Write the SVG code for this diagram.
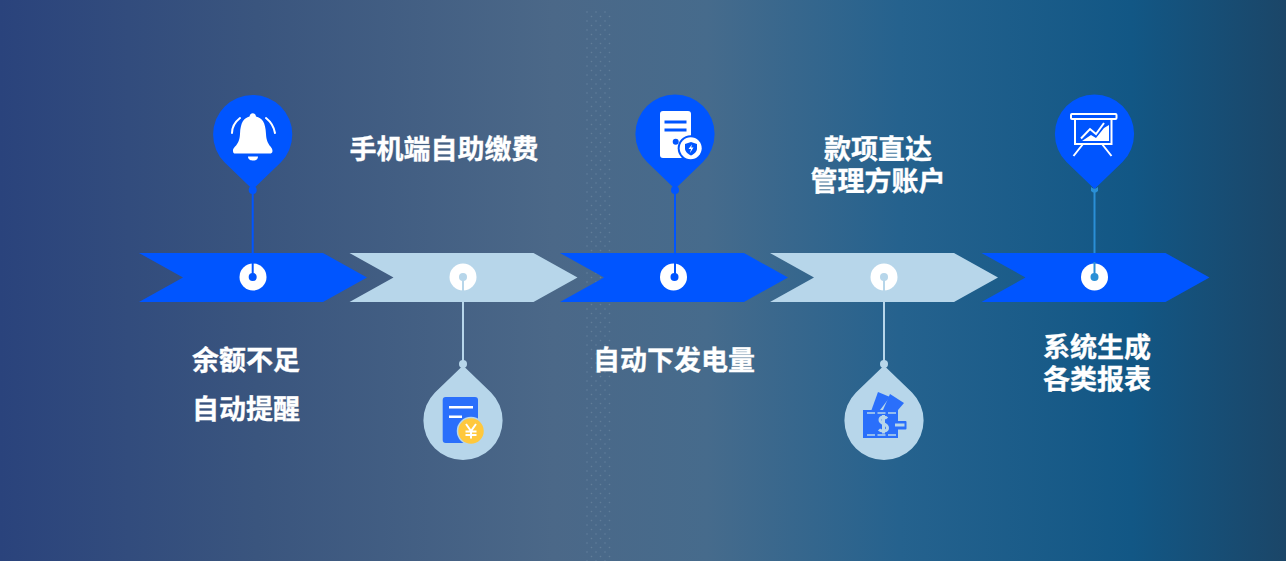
<svg xmlns="http://www.w3.org/2000/svg" width="1286" height="561" viewBox="0 0 1286 561">
<style>
text{font-family:"Noto Sans CJK SC","Liberation Sans",sans-serif;font-weight:700;font-size:27px;fill:#fff;stroke:#fff;stroke-width:.3px;text-anchor:middle}
.b{fill:#0055ff}.l{fill:#b7d6ea}.w{fill:#fff}.ic{fill:#2a6ffb}
.sw{fill:none;stroke:#fff}
</style>
<defs>
<linearGradient id="bg" x1="0" y1="0" x2="1" y2="0">
<stop offset="0" stop-color="#2a437c"/>
<stop offset="0.2" stop-color="#3a557e"/>
<stop offset="0.43" stop-color="#4b6888"/>
<stop offset="0.55" stop-color="#466b8c"/>
<stop offset="0.7" stop-color="#25628e"/>
<stop offset="0.88" stop-color="#125785"/>
<stop offset="1" stop-color="#1b4668"/>
</linearGradient>
<pattern id="dots" width="9" height="9" patternUnits="userSpaceOnUse"><circle cx="2" cy="3" r="0.8" fill="#7d97ad" fill-opacity="0.45"/><circle cx="6.500" cy="7.500" r="0.8" fill="#7d97ad" fill-opacity="0.45"/></pattern>
<polygon id="chev" points="0,0 184,0 228,24.500 184,49 0,49 44,24.500"/>
<path id="pin" d="M0,55 L-28,28 A39.600,39.600 0 1 1 28,28 Z"/>
</defs>
<rect width="1286" height="561" fill="url(#bg)"/>
<rect x="585" y="10" width="28" height="551" fill="url(#dots)"/>

<g id="connectors">
<line x1="252.700" y1="186" x2="252.700" y2="277" stroke="#0055ff" stroke-width="2"/>
<line x1="463" y1="277" x2="463" y2="365" stroke="#b7d6ea" stroke-width="2"/>
<line x1="675" y1="186" x2="675" y2="277" stroke="#0055ff" stroke-width="2"/>
<line x1="884" y1="277" x2="884" y2="365" stroke="#b7d6ea" stroke-width="2"/>
<line x1="1094.500" y1="186" x2="1094.500" y2="277" stroke="#2a8fd6" stroke-width="2"/>
</g>

<g id="step1">
<use href="#chev" class="b" x="139" y="253"/>
<circle class="w" cx="253" cy="277" r="13.500"/>
<line x1="252.700" y1="262" x2="252.700" y2="277" stroke="#0055ff" stroke-width="2"/>
<circle class="b" cx="252.700" cy="277" r="4"/>
<text x="246" y="370">余额不足</text>
<text x="246" y="418.500">自动提醒</text>
</g>
<g id="pin1">
<use href="#pin" class="b" x="252.700" y="134.500"/>
<circle class="b" cx="252.700" cy="190" r="4"/>
<path class="w" d="M233,151 C233,146 239.500,146 240,134 C240.500,122 244,118 249.500,116.500 C250,112 255.500,112 256,116.500 C262,118 265.500,122 266,134 C266.500,146 272.500,146 272.500,151 C272.500,153 271,153.500 270,153.500 L235,153.500 C234,153.500 233,153 233,151 Z"/>
<path class="w" d="M248,156.500 L258,156.500 C258,160 255,160.500 253,160.500 C251,160.500 248,160 248,156.500 Z"/>
<path class="sw" stroke-width="2" stroke-linecap="round" d="M240,118 C235,122 232,127 232,133 M266,118 C271,122 274,127 275,133"/>
</g>

<g id="step2">
<use href="#chev" class="l" x="349.500" y="253"/>
<circle class="w" cx="463" cy="277" r="13.500"/>
<line x1="463" y1="277" x2="463" y2="291" stroke="#b7d6ea" stroke-width="2"/>
<circle class="l" cx="463" cy="277" r="4"/>
<text x="444" y="159">手机端自助缴费</text>
</g>
<g id="pin2">
<use href="#pin" class="l" transform="translate(463,420.500) scale(1,-1)"/>
<circle class="l" cx="463" cy="364" r="4"/>
<rect class="ic" x="442.700" y="397" width="35.300" height="46" rx="3"/>
<rect class="w" x="449" y="406" width="24" height="2.500"/>
<rect class="w" x="449" y="415.500" width="13" height="2.500"/>
<circle cx="471" cy="431" r="13.500" fill="#ffc83d" stroke="#b7d6ea" stroke-width="1.500"/>
<path class="sw" stroke-width="2" d="M466,424 L471,431 L476,424 M471,431 L471,438.500 M465.500,431.500 L476.500,431.500 M465.500,435 L476.500,435"/>
</g>

<g id="step3">
<use href="#chev" class="b" x="560" y="253"/>
<circle class="w" cx="673.500" cy="277" r="13.500"/>
<line x1="675" y1="262" x2="675" y2="277" stroke="#0055ff" stroke-width="2"/>
<circle class="b" cx="674.500" cy="277" r="4"/>
<text x="674" y="370">自动下发电量</text>
</g>
<g id="pin3">
<use href="#pin" class="b" x="675" y="134"/>
<circle class="b" cx="675" cy="190" r="4"/>
<rect class="w" x="660" y="111" width="31" height="47" rx="3"/>
<rect class="b" x="664.500" y="120.500" width="22" height="3"/>
<rect class="b" x="664.500" y="128.500" width="22" height="3"/>
<circle class="b" cx="675.700" cy="141.700" r="3"/>
<circle cx="690.700" cy="148.300" r="13" fill="#0055ff"/>
<circle cx="690.700" cy="148.300" r="11" fill="#fff"/>
<path class="b" d="M691,142 L697,144 V148.500 C697,152 694,154 691,155.500 C688,154 685,152 685,148.500 V144 Z"/>
<path class="w" d="M692,144.500 L688.500,149 H691 L690,153 L693.500,147.500 H691.200 Z"/>
</g>

<g id="step4">
<use href="#chev" class="l" x="770" y="253"/>
<circle class="w" cx="884" cy="277" r="13.500"/>
<line x1="884" y1="277" x2="884" y2="291" stroke="#b7d6ea" stroke-width="2"/>
<circle class="l" cx="884" cy="277" r="4"/>
<text x="878" y="159">款项直达<tspan x="878" y="191">管理方账户</tspan></text>
</g>
<g id="pin4">
<use href="#pin" class="l" transform="translate(884,420.500) scale(1,-1)"/>
<circle class="l" cx="884" cy="364" r="4"/>
<polygon class="ic" points="871.500,410 878,392 890,397 880,410"/>
<polygon class="ic" points="883,410 890,394 904,403 898,410"/>
<rect class="ic" x="863" y="410" width="35" height="28"/>
<rect class="ic" x="893" y="421" width="13.500" height="8.500" rx="1"/>
<rect fill="#b7d6ea" x="895" y="423.500" width="9.500" height="3"/>
<line x1="867" y1="413" x2="900" y2="413" stroke="#b7d6ea" stroke-width="1.500" stroke-dasharray="8 2.500"/>
<line x1="867" y1="435" x2="898" y2="435" stroke="#b7d6ea" stroke-width="1.500" stroke-dasharray="8 2.500"/>
<path fill="none" stroke="#b7d6ea" stroke-width="3" d="M887,418.500 C885,416 880,416.500 880,420 C880,424.500 887.500,423 887.500,428 C887.500,431.500 881.500,432 879,429.500 M883.500,415 V433.500"/>
</g>

<g id="step5">
<use href="#chev" class="b" x="981.500" y="253"/>
<circle class="w" cx="1094.500" cy="277" r="13.500"/>
<line x1="1094.500" y1="262" x2="1094.500" y2="277" stroke="#2a8fd6" stroke-width="2"/>
<circle cx="1094.500" cy="277" r="4" fill="#2a8fd6"/>
<text x="1097" y="357">系统生成<tspan x="1097" y="389">各类报表</tspan></text>
</g>
<g id="pin5">
<use href="#pin" class="b" x="1094.500" y="134"/>
<path fill="#2a8fd6" d="M1091,187 L1094.500,189.500 L1098,187 V191 L1096,192.500 H1093 L1091,191 Z"/>
<rect class="sw" stroke-width="2" x="1071" y="114" width="45.500" height="5" rx="1"/>
<rect class="sw" stroke-width="2" x="1075" y="119" width="36.500" height="25"/>
<path class="w" d="M1082,141 L1091,135 L1096,138 L1104,128 L1109,125 V141 Z"/>
<path fill="none" stroke="#0055ff" stroke-width="4" d="M1081,138.500 L1090,129 L1096,134 L1104,123"/>
<path class="sw" stroke-width="2" d="M1081,138.500 L1090,129 L1096,134 L1104,123"/>
<path class="sw" stroke-width="2" d="M1083,144 L1073.500,156 M1102,144 L1111.500,156"/>
</g>
</svg>
